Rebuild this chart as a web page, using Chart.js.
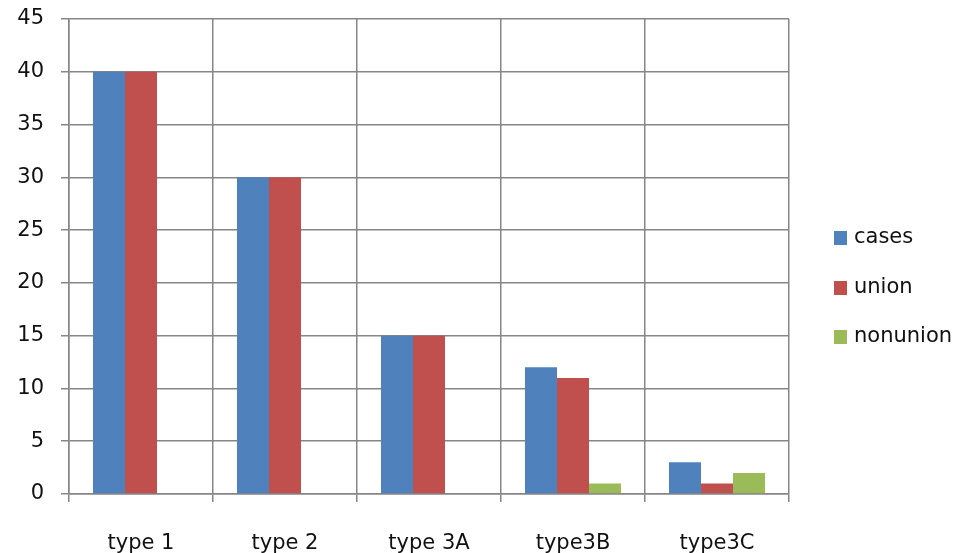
<!DOCTYPE html>
<html>
<head>
<meta charset="utf-8">
<script src="https://cdn.jsdelivr.net/npm/chart.js@4"></script>
<style>
  html, body { margin: 0; padding: 0; background: #fff; }
  #wrap { width: 966px; height: 553px; }
</style>
</head>
<body>
<div id="wrap"><canvas id="barChart" width="966" height="553"></canvas></div>
<script>
// Data
const categories = ['type 1', 'type 2', 'type 3A', 'type3B', 'type3C'];
const casesValues = [40, 30, 15, 12, 3];
const unionValues = [40, 30, 15, 11, 1];
const nonunionValues = [0, 0, 0, 1, 2];
const yTicks = [0, 5, 10, 15, 20, 25, 30, 35, 40, 45];

const gridColor = '#868686';
const textColor = '#111111';
const fontFamily = '"DejaVu Sans", Verdana, sans-serif';

// Legend drawn on the right side, like the original
const sideLegend = {
    id: 'sideLegend',
    afterDraw(chart) {
        const ctx = chart.ctx;
        const x = chart.chartArea.right + 45;
        const rows = [238, 288, 337];
        ctx.save();
        ctx.font = '21px ' + fontFamily;
        ctx.textBaseline = 'middle';
        ctx.textAlign = 'left';
        chart.data.datasets.forEach((ds, i) => {
            ctx.fillStyle = ds.backgroundColor;
            ctx.fillRect(x, rows[i] - 7, 13, 14);
            ctx.fillStyle = textColor;
            ctx.fillText(ds.label, x + 20, rows[i]);
        });
        ctx.restore();
    }
};

const ctx = document.getElementById('barChart').getContext('2d');
new Chart(ctx, {
    type: 'bar',
    data: {
        labels: categories,
        datasets: [
            { label: 'cases', data: casesValues, backgroundColor: '#4F81BD' },
            { label: 'union', data: unionValues, backgroundColor: '#C0504D' },
            { label: 'nonunion', data: nonunionValues, backgroundColor: '#9BBB59' }
        ]
    },
    options: {
        responsive: false,
        animation: false,
        layout: { padding: { top: 19, right: 177, left: 0, bottom: 0 } },
        datasets: {
            bar: { categoryPercentage: 0.667, barPercentage: 1.0, borderWidth: 0 }
        },
        plugins: {
            legend: { display: false },
            tooltip: { enabled: false }
        },
        scales: {
            x: {
                offset: true,
                afterFit(scale) {
                    scale.height = 59;
                    scale.paddingLeft = 0;
                    scale.paddingRight = 0;
                },
                grid: {
                    offset: true,
                    color: gridColor,
                    lineWidth: 1.5,
                    tickLength: 8
                },
                border: { color: gridColor, width: 1.5 },
                ticks: {
                    color: textColor,
                    padding: 29,
                    font: { family: fontFamily, size: 21 }
                }
            },
            y: {
                min: 0,
                max: 45,
                afterFit(scale) {
                    scale.width = 69;
                    scale.paddingTop = 0;
                    scale.paddingBottom = 0;
                },
                afterBuildTicks(scale) { scale.ticks = yTicks.map(v => ({ value: v })); },
                grid: {
                    color: gridColor,
                    lineWidth: 1.5,
                    tickLength: 8
                },
                border: { color: gridColor, width: 1.5 },
                ticks: {
                    color: textColor,
                    padding: 17,
                    font: { family: fontFamily, size: 21 }
                }
            }
        }
    },
    plugins: [sideLegend]
});
</script>
</body>
</html>
